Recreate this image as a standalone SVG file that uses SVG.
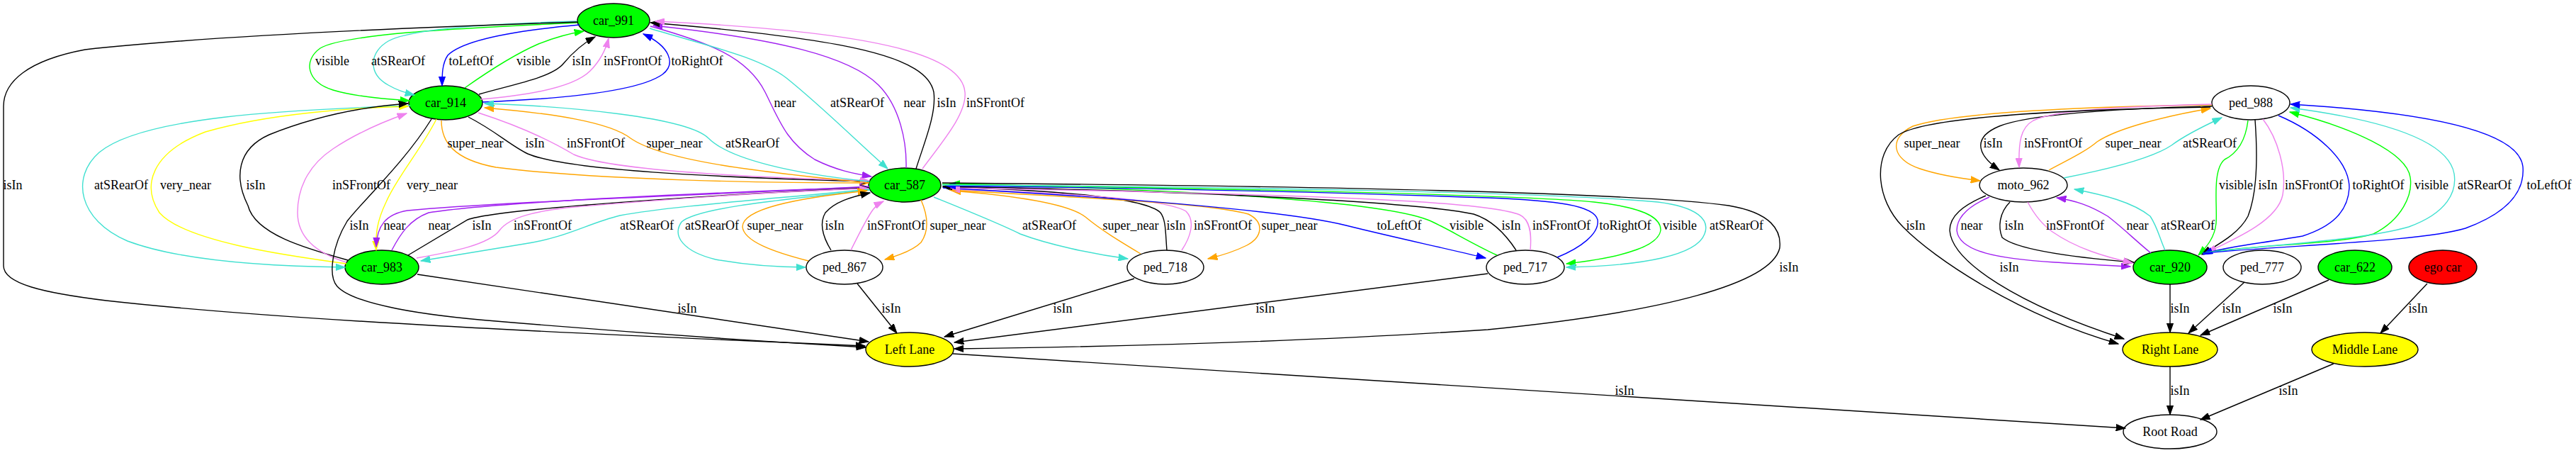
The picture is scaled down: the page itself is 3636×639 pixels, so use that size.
<svg xmlns="http://www.w3.org/2000/svg" width="3636" height="639" viewBox="0 0 3636 639">
<style>
text{font-family:"Liberation Serif","Times New Roman",serif;font-size:18px;text-anchor:middle;fill:#000;stroke:none}
.nd{stroke:#000;stroke-width:1.4}
.g{fill:#00ff00}.y{fill:#ffff00}.r{fill:#ff0000}.w{fill:#ffffff}
.k{stroke:#000000;marker-end:url(#ak)}
.gr{stroke:#00ff00;marker-end:url(#agr)}
.tq{stroke:#40e0d0;marker-end:url(#atq)}
.bl{stroke:#0000ff;marker-end:url(#abl)}
.vi{stroke:#ee82ee;marker-end:url(#avi)}
.pu{stroke:#a020f0;marker-end:url(#apu)}
.or{stroke:#ffa500;marker-end:url(#aor)}
.ye{stroke:#ffff00;marker-end:url(#aye)}
</style>
<defs>
<marker id="ak" viewBox="0 0 14 10" refX="13.3" refY="5" markerWidth="14" markerHeight="10" markerUnits="userSpaceOnUse" orient="auto"><path d="M0,0.3L13.3,5L0,9.7z" fill="#000000" stroke="#000000" stroke-width="1"/></marker>
<marker id="agr" viewBox="0 0 14 10" refX="13.3" refY="5" markerWidth="14" markerHeight="10" markerUnits="userSpaceOnUse" orient="auto"><path d="M0,0.3L13.3,5L0,9.7z" fill="#00ff00" stroke="#00ff00" stroke-width="1"/></marker>
<marker id="atq" viewBox="0 0 14 10" refX="13.3" refY="5" markerWidth="14" markerHeight="10" markerUnits="userSpaceOnUse" orient="auto"><path d="M0,0.3L13.3,5L0,9.7z" fill="#40e0d0" stroke="#40e0d0" stroke-width="1"/></marker>
<marker id="abl" viewBox="0 0 14 10" refX="13.3" refY="5" markerWidth="14" markerHeight="10" markerUnits="userSpaceOnUse" orient="auto"><path d="M0,0.3L13.3,5L0,9.7z" fill="#0000ff" stroke="#0000ff" stroke-width="1"/></marker>
<marker id="avi" viewBox="0 0 14 10" refX="13.3" refY="5" markerWidth="14" markerHeight="10" markerUnits="userSpaceOnUse" orient="auto"><path d="M0,0.3L13.3,5L0,9.7z" fill="#ee82ee" stroke="#ee82ee" stroke-width="1"/></marker>
<marker id="apu" viewBox="0 0 14 10" refX="13.3" refY="5" markerWidth="14" markerHeight="10" markerUnits="userSpaceOnUse" orient="auto"><path d="M0,0.3L13.3,5L0,9.7z" fill="#a020f0" stroke="#a020f0" stroke-width="1"/></marker>
<marker id="aor" viewBox="0 0 14 10" refX="13.3" refY="5" markerWidth="14" markerHeight="10" markerUnits="userSpaceOnUse" orient="auto"><path d="M0,0.3L13.3,5L0,9.7z" fill="#ffa500" stroke="#ffa500" stroke-width="1"/></marker>
<marker id="aye" viewBox="0 0 14 10" refX="13.3" refY="5" markerWidth="14" markerHeight="10" markerUnits="userSpaceOnUse" orient="auto"><path d="M0,0.3L13.3,5L0,9.7z" fill="#ffff00" stroke="#ffff00" stroke-width="1"/></marker>
</defs>
<rect width="3636" height="639" fill="#ffffff"/>

<g id="nodes">
<g id="car_991"><ellipse class="nd g" cx="866" cy="29" rx="51" ry="24"/><text x="866" y="35">car_991</text></g>
<g id="car_914"><ellipse class="nd g" cx="629" cy="145" rx="52" ry="24"/><text x="629" y="151">car_914</text></g>
<g id="car_587"><ellipse class="nd g" cx="1277" cy="261" rx="51" ry="24"/><text x="1277" y="267">car_587</text></g>
<g id="car_983"><ellipse class="nd g" cx="539" cy="377" rx="52" ry="24"/><text x="539" y="383">car_983</text></g>
<g id="ped_867"><ellipse class="nd w" cx="1192" cy="377" rx="54" ry="24"/><text x="1192" y="383">ped_867</text></g>
<g id="ped_718"><ellipse class="nd w" cx="1645" cy="377" rx="54" ry="24"/><text x="1645" y="383">ped_718</text></g>
<g id="ped_717"><ellipse class="nd w" cx="2153" cy="377" rx="55" ry="24"/><text x="2153" y="383">ped_717</text></g>
<g id="left_lane"><ellipse class="nd y" cx="1284" cy="493" rx="62" ry="24"/><text x="1284" y="499">Left Lane</text></g>
<g id="root_road"><ellipse class="nd w" cx="3063" cy="609" rx="66" ry="24"/><text x="3063" y="615">Root Road</text></g>
<g id="ped_988"><ellipse class="nd w" cx="3177" cy="145" rx="55" ry="24"/><text x="3177" y="151">ped_988</text></g>
<g id="moto_962"><ellipse class="nd w" cx="2856" cy="261" rx="62" ry="24"/><text x="2856" y="267">moto_962</text></g>
<g id="car_920"><ellipse class="nd g" cx="3063" cy="377" rx="52" ry="24"/><text x="3063" y="383">car_920</text></g>
<g id="ped_777"><ellipse class="nd w" cx="3193" cy="377" rx="55" ry="24"/><text x="3193" y="383">ped_777</text></g>
<g id="car_622"><ellipse class="nd g" cx="3324" cy="377" rx="52" ry="24"/><text x="3324" y="383">car_622</text></g>
<g id="ego_car"><ellipse class="nd r" cx="3448" cy="377" rx="48" ry="24"/><text x="3448" y="383">ego car</text></g>
<g id="right_lane"><ellipse class="nd y" cx="3063" cy="493" rx="67" ry="24"/><text x="3063" y="499">Right Lane</text></g>
<g id="middle_lane"><ellipse class="nd y" cx="3338" cy="493" rx="75" ry="24"/><text x="3338" y="499">Middle Lane</text></g>
</g>

<g id="connectors" fill="none" stroke-width="1.4">
<g><path class="gr" d="M815,32 C700,38 491,45 452,68 C428,85 432,115 470,127 C500,136 545,140 578,142"/><text x="469" y="92">visible</text></g>
<g><path class="tq" d="M815,30 C700,33 580,40 548,58 C522,73 518,103 548,120 C560,127 572,131 585,134"/><text x="562" y="92">atSRearOf</text></g>
<g><path class="bl" d="M818,35 C740,42 655,55 632,78 C624,90 624,105 624,121"/><text x="665" y="92">toLeftOf</text></g>
<g><path class="gr" d="M656,124 C690,100 730,75 760,62 C785,52 805,47 824,44"/><text x="753" y="92">visible</text></g>
<g><path class="k" d="M676,133 C720,120 778,110 795,90 C810,72 825,60 840,52"/><text x="821" y="92">isIn</text></g>
<g><path class="vi" d="M678,140 C740,135 808,125 833,100 C848,85 855,70 859,54"/><text x="893" y="92">inSFrontOf</text></g>
<g><path class="bl" d="M681,144 C780,140 900,130 935,105 C955,90 945,65 908,48"/><text x="984" y="92">toRightOf</text></g>
<g><path class="pu" d="M918,37 C1000,60 1055,80 1080,130 C1100,170 1110,200 1150,225 C1180,240 1205,245 1230,249"/><text x="1108" y="151">near</text></g>
<g><path class="tq" d="M917,40 C1000,65 1070,80 1110,110 C1160,150 1210,200 1253,238"/><text x="1210" y="151">atSRearOf</text></g>
<g><path class="pu" d="M1279,237 C1280,200 1270,150 1240,120 C1200,80 1100,55 922,36"/><text x="1291" y="151">near</text></g>
<g><path class="k" d="M1293,238 C1305,200 1322,160 1318,130 C1308,80 1200,55 918,32"/><text x="1336" y="151">isIn</text></g>
<g><path class="vi" d="M1302,238 C1330,200 1365,160 1362,130 C1358,80 1250,45 925,30"/><text x="1405" y="151">inSFrontOf</text></g>
<g><path class="or" d="M623,170 C623,200 640,225 700,236 C850,255 1100,258 1226,258"/><text x="671" y="208">super_near</text></g>
<g><path class="k" d="M661,165 C700,185 720,205 745,217 C800,240 1000,250 1227,256"/><text x="755" y="208">isIn</text></g>
<g><path class="vi" d="M675,159 C740,180 780,200 810,218 C860,240 1050,250 1227,255"/><text x="841" y="208">inSFrontOf</text></g>
<g><path class="or" d="M1227,258 C1100,245 940,230 890,195 C860,172 780,160 684,152"/><text x="952" y="208">super_near</text></g>
<g><path class="tq" d="M1227,256 C1120,245 1030,225 1000,195 C970,165 800,150 684,146"/><text x="1062" y="208">atSRearOf</text></g>
<g><path class="tq" d="M579,149 C400,155 200,165 140,215 C100,250 110,310 180,340 C260,370 400,376 487,377"/><text x="171" y="267">atSRearOf</text></g>
<g><path class="ye" d="M489,372 C400,360 260,340 225,300 C200,262 213,215 290,186 C380,160 500,152 576,150"/><text x="262" y="267">very_near</text></g>
<g><path class="k" d="M491,367 C430,350 360,330 350,290 C330,250 335,210 380,190 C450,162 520,150 576,146"/><text x="361" y="267">isIn</text></g>
<g><path class="vi" d="M489,370 C440,355 420,330 420,300 C420,260 440,230 470,210 C500,190 540,172 574,160"/><text x="510" y="267">inSFrontOf</text></g>
<g><path class="ye" d="M616,168 C595,210 560,250 545,285 C532,312 530,330 531,353"/><text x="610" y="267">very_near</text></g>
<g><path class="k" d="M609,168 C570,230 515,280 490,312 C470,345 462,388 476,404 C500,430 600,445 700,453 C900,470 1100,483 1222,490"/><text x="507" y="324">isIn</text></g>
<g><path class="k" d="M815,31 C600,38 300,50 120,70 C40,85 5,115 5,150 L5,375 C5,400 60,413 150,424 C400,452 800,470 1221,488"/><text x="18" y="267">isIn</text></g>
<g><path class="pu" d="M1227,263 C1000,275 700,285 575,297 C545,302 532,318 531,348"/><text x="557" y="324">near</text></g>
<g><path class="pu" d="M553,353 C565,330 578,310 605,300 C700,285 1000,272 1226,264"/><text x="620" y="324">near</text></g>
<g><path class="k" d="M576,360 C610,340 640,322 660,310 C700,295 1000,275 1226,265"/><text x="680" y="324">isIn</text></g>
<g><path class="vi" d="M588,364 C640,355 690,345 705,325 C720,305 760,298 800,293 C950,280 1100,270 1226,266"/><text x="766" y="324">inSFrontOf</text></g>
<g><path class="tq" d="M1227,267 C1100,280 950,290 875,304 C830,315 800,335 740,344 C680,354 630,362 594,368"/><text x="913" y="324">atSRearOf</text></g>
<g><path class="tq" d="M1228,268 C1100,282 985,293 962,313 C948,333 965,355 1010,366 C1060,375 1100,377 1137,377"/><text x="1005" y="324">atSRearOf</text></g>
<g><path class="or" d="M1141,368 C1090,355 1050,340 1048,320 C1048,295 1120,280 1224,269"/><text x="1094" y="324">super_near</text></g>
<g><path class="k" d="M1173,353 C1162,335 1156,315 1165,300 C1178,285 1200,278 1228,272"/><text x="1178" y="324">isIn</text></g>
<g><path class="vi" d="M1201,353 C1210,335 1222,310 1232,296 C1236,291 1241,287 1247,284"/><text x="1265" y="324">inSFrontOf</text></g>
<g><path class="or" d="M1300,282 C1310,305 1312,325 1300,342 C1290,352 1270,360 1249,366"/><text x="1352" y="324">super_near</text></g>
<g><path class="tq" d="M1318,278 C1360,295 1410,315 1440,330 C1480,345 1540,358 1592,365"/><text x="1481" y="324">atSRearOf</text></g>
<g><path class="or" d="M1610,358 C1580,340 1555,325 1532,306 C1505,285 1420,275 1343,269"/><text x="1596" y="324">super_near</text></g>
<g><path class="k" d="M1647,353 C1645,330 1646,310 1638,300 C1618,280 1500,268 1331,264"/><text x="1660" y="324">isIn</text></g>
<g><path class="vi" d="M1668,353 C1680,335 1688,312 1674,298 C1645,280 1500,272 1342,267"/><text x="1726" y="324">inSFrontOf</text></g>
<g><path class="or" d="M1340,268 C1500,278 1700,285 1762,302 C1786,314 1781,335 1760,346 C1742,355 1722,361 1705,365"/><text x="1820" y="324">super_near</text></g>
<g><path class="bl" d="M1331,265 C1600,280 1820,298 1900,318 C1960,333 2030,348 2097,364"/><text x="1975" y="324">toLeftOf</text></g>
<g><path class="gr" d="M2113,360 C2070,340 2040,320 2015,310 C1950,285 1700,268 1342,259"/><text x="2070" y="324">visible</text></g>
<g><path class="k" d="M2140,353 C2125,330 2105,310 2080,302 C2000,285 1700,270 1331,263"/><text x="2133" y="324">isIn</text></g>
<g><path class="vi" d="M2160,353 C2162,330 2160,310 2145,303 C2100,285 1900,275 1342,265"/><text x="2204" y="324">inSFrontOf</text></g>
<g><path class="bl" d="M2198,363 C2230,350 2258,330 2255,310 C2250,290 2200,283 2100,279 C1900,272 1600,265 1336,262"/><text x="2294" y="324">toRightOf</text></g>
<g><path class="gr" d="M1330,260 C1700,265 2150,275 2250,285 C2315,292 2345,305 2344,325 C2341,345 2300,362 2211,372"/><text x="2371" y="324">visible</text></g>
<g><path class="tq" d="M1330,261 C1750,263 2200,272 2340,285 C2396,292 2414,310 2406,330 C2395,360 2320,375 2211,377"/><text x="2451" y="324">atSRearOf</text></g>
<g><path class="k" d="M1330,258 C1800,262 2300,270 2440,290 C2500,300 2515,325 2512,350 C2500,400 2350,440 2100,465 C1800,485 1500,490 1347,492"/><text x="2525" y="383">isIn</text></g>
<g><path class="k" d="M589,387 L1226,482"/><text x="970" y="441">isIn</text></g>
<g><path class="k" d="M1210,400 L1266,470"/><text x="1258" y="441">isIn</text></g>
<g><path class="k" d="M1601,393 L1333,475"/><text x="1500" y="441">isIn</text></g>
<g><path class="k" d="M2100,386 L1347,483"/><text x="1786" y="441">isIn</text></g>
<g><path class="k" d="M1345,499 L3000,604"/><text x="2293" y="557">isIn</text></g>
<g><path class="or" d="M3122,148 C2950,150 2760,158 2700,178 C2665,195 2670,225 2710,238 C2740,248 2770,252 2795,255"/><text x="2727" y="208">super_near</text></g>
<g><path class="k" d="M3122,150 C2980,153 2862,162 2822,178 C2788,192 2786,215 2822,240"/><text x="2813" y="208">isIn</text></g>
<g><path class="vi" d="M3122,147 C3000,150 2900,155 2870,170 C2852,180 2849,200 2850,236"/><text x="2898" y="208">inSFrontOf</text></g>
<g><path class="or" d="M2892,240 C2920,225 2945,213 2960,200 C2990,180 3060,163 3120,153"/><text x="3011" y="208">super_near</text></g>
<g><path class="tq" d="M2913,251 C2980,238 3040,222 3065,205 C3085,190 3110,178 3136,166"/><text x="3119" y="208">atSRearOf</text></g>
<g><path class="k" d="M3120,151 C2900,155 2720,165 2680,190 C2642,218 2648,282 2686,320 C2730,365 2850,445 2990,485"/><text x="2704" y="324">isIn</text></g>
<g><path class="k" d="M2803,276 C2770,290 2752,305 2752,325 C2755,370 2850,430 2998,478"/><text x="2836" y="383">isIn</text></g>
<g><path class="pu" d="M2808,278 C2780,290 2762,305 2762,325 C2765,355 2820,365 2900,370 C2950,373 2980,375 3007,376"/><text x="2783" y="324">near</text></g>
<g><path class="k" d="M2837,285 C2822,300 2820,320 2826,335 C2850,355 2950,365 3012,370"/><text x="2843" y="324">isIn</text></g>
<g><path class="vi" d="M2862,285 C2870,300 2880,315 2897,327 C2930,350 2970,362 3010,371"/><text x="2929" y="324">inSFrontOf</text></g>
<g><path class="pu" d="M3036,357 C3015,340 2995,320 2975,305 C2950,290 2930,283 2903,279"/><text x="3017" y="324">near</text></g>
<g><path class="tq" d="M3056,353 C3048,335 3045,320 3035,305 C3010,285 2970,275 2928,267"/><text x="3088" y="324">atSRearOf</text></g>
<g><path class="gr" d="M3173,170 C3170,195 3160,215 3140,225 C3122,240 3130,290 3128,315 C3126,335 3115,348 3103,360"/><text x="3156" y="267">visible</text></g>
<g><path class="k" d="M3183,169 C3186,210 3187,270 3173,305 C3160,330 3130,345 3108,359"/><text x="3201" y="267">isIn</text></g>
<g><path class="vi" d="M3194,168 C3215,195 3228,240 3222,275 C3215,310 3160,335 3115,356"/><text x="3266" y="267">inSFrontOf</text></g>
<g><path class="bl" d="M3216,163 C3268,185 3316,225 3316,265 C3314,300 3290,320 3250,333 C3180,345 3130,350 3110,359"/><text x="3357" y="267">toRightOf</text></g>
<g><path class="gr" d="M3109,357 C3180,345 3300,345 3350,330 C3390,310 3406,275 3402,250 C3397,215 3320,180 3232,158"/><text x="3432" y="267">visible</text></g>
<g><path class="tq" d="M3109,357 C3200,345 3330,340 3400,320 C3455,300 3468,270 3464,245 C3456,200 3370,170 3233,152"/><text x="3507" y="267">atSRearOf</text></g>
<g><path class="bl" d="M3109,357 C3250,345 3420,340 3480,322 C3540,300 3564,270 3561,235 C3556,190 3450,160 3233,147"/><text x="3598" y="267">toLeftOf</text></g>
<g><path class="k" d="M3063,401 L3063,469"/><text x="3077" y="441">isIn</text></g>
<g><path class="k" d="M3168,398 L3089,470"/><text x="3150" y="441">isIn</text></g>
<g><path class="k" d="M3287,395 L3106,473"/><text x="3222" y="441">isIn</text></g>
<g><path class="k" d="M3426,400 L3360,470"/><text x="3413" y="441">isIn</text></g>
<g><path class="k" d="M3063,517 L3063,585"/><text x="3077" y="557">isIn</text></g>
<g><path class="k" d="M3294,513 L3106,592"/><text x="3230" y="557">isIn</text></g>
</g>
</svg>
